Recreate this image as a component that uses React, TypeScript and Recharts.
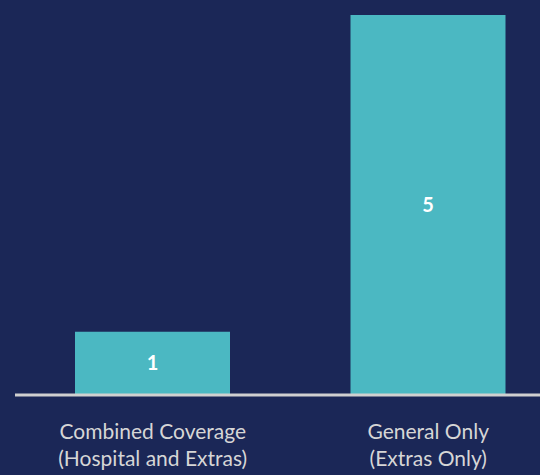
import { BarChart, Bar, XAxis, YAxis, LabelList, ReferenceLine } from "recharts";

const categories = ["Combined Coverage\n(Hospital and Extras)", "General Only\n(Extras Only)"];
const counts = [1, 5];

const data = categories.map((name, i) => ({ name, count: counts[i] }));

const BG = "#1b2757";
const TEAL = "#4bb8c2";
const FONT = "Lato, 'Open Sans', sans-serif";

const TwoLineTick = (props: any) => {
    const { x, y, payload } = props;
    const lines = String(payload.value).split("\n");
    return (
        <g>
            {lines.map((ln: string, i: number) => (
                <text key={i} x={x} y={y + 36 + i * 27} textAnchor="middle" fill="#d6d6d6" fontSize={21} fontFamily={FONT}>
                    {ln}
                </text>
            ))}
        </g>
    );
};

export default function App() {
    return (
        <div style={{ position: "absolute", top: 0, left: 0, width: 540, height: 475, overflow: "hidden", background: BG }}>
            <BarChart
                width={566}
                height={475}
                data={data}
                margin={{ top: 15, right: 0, bottom: 0, left: 15 }}
                barSize={155}
            >
                <XAxis dataKey="name" axisLine={false} tickLine={false} tick={<TwoLineTick />} interval={0} height={80} />
                <YAxis hide domain={[0.2, 5]} allowDataOverflow />
                <Bar dataKey="count" fill={TEAL} isAnimationActive={false}>
                    <LabelList dataKey="count" position="center" fill="#ffffff" fontSize={20} fontWeight="bold" fontFamily={FONT} />
                </Bar>
                <ReferenceLine y={0.2} stroke="#d0d0d0" strokeWidth={3} ifOverflow="extendDomain" />
            </BarChart>
        </div>
    );
}
